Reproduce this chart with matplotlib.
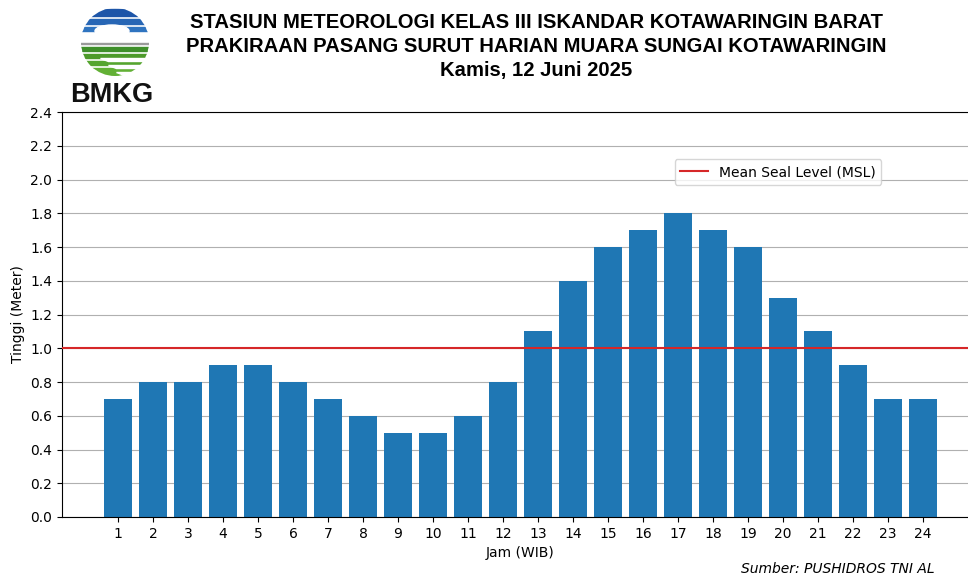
import matplotlib.pyplot as plt
from matplotlib.patches import Circle, Rectangle, Ellipse, Polygon

jam = list(range(1, 25))
tinggi = [0.7, 0.8, 0.8, 0.9, 0.9, 0.8, 0.7, 0.6, 0.5, 0.5, 0.6, 0.8,
          1.1, 1.4, 1.6, 1.7, 1.8, 1.7, 1.6, 1.3, 1.1, 0.9, 0.7, 0.7]
msl = 1.0
judul = ["STASIUN METEOROLOGI KELAS III ISKANDAR KOTAWARINGIN BARAT",
         "PRAKIRAAN PASANG SURUT HARIAN MUARA SUNGAI KOTAWARINGIN",
         "Kamis, 12 Juni 2025"]

W, H = 968, 579
fig = plt.figure(figsize=(W / 100, H / 100), dpi=100)

# main axes (right spine falls just outside the image, like the original)
ax = fig.add_axes([62 / W, (H - 517) / H, 917 / W, 405 / H])
ax.bar(jam, tinggi, width=0.8, color='#1f77b4', zorder=2)
ax.axhline(msl, color='#d62728', linewidth=1.5, label='Mean Seal Level (MSL)', zorder=3)
ax.set_xlim(-0.6, 25.6)
ax.set_ylim(0, 2.4)
ax.set_xticks(jam)
ax.set_yticks([i * 0.2 for i in range(13)])
ax.yaxis.set_major_formatter(plt.FuncFormatter(lambda v, p: f"{v:.1f}"))
ax.grid(axis='y', color='#b0b0b0', linewidth=0.8, zorder=0)
ax.set_axisbelow(True)
ax.set_xlabel("Jam (WIB)", fontsize=10)
ax.set_ylabel("Tinggi (Meter)", fontsize=10)
ax.legend(loc='center', bbox_to_anchor=((778 - 62) / 917, (517 - 172) / 405), fontsize=10)

# titles
for i, t in enumerate(judul):
    fig.text(536 / W, 1 - (23 + i * 23.5) / H, t, ha='center', va='center',
             fontsize=14.6, fontweight='bold', family='Liberation Sans')

fig.text(838 / W, 1 - 569 / H, "Sumber: PUSHIDROS TNI AL", ha='center', va='center',
         fontsize=10, style='italic')

# simple BMKG logo, drawn in pixel coordinates
lg = fig.add_axes([78 / W, 1 - 80 / H, 74 / W, 74 / H])
lg.set_xlim(78, 152)
lg.set_ylim(80, 6)
lg.axis('off')
clip = Circle((115, 42), 34, transform=lg.transData)
bands = [(9, 7, '#1d55a8'), (19, 5, '#2766b5'), (27, 4, '#2f74c0'),
         (42.5, 1.2, '#9a9a9a'),
         (47, 4, '#3f8f2a'), (54, 4, '#4d9a2a'), (61, 4, '#55a52f'), (68, 9, '#62b035')]
for y0, h, c in bands:
    r = Rectangle((78, y0), 74, h, color=c)
    r.set_clip_path(clip)
    lg.add_patch(r)
# white hill in the blue part and slanted gaps in the green part
lg.add_patch(Ellipse((112, 31), 34, 12, color='white'))
for k in range(3):
    g = Polygon([(100 + k * 8, 58 + k * 7), (152, 58 + k * 7), (152, 61 + k * 7), (108 + k * 8, 61 + k * 7)],
                closed=True, color='white')
    lg.add_patch(g)
fig.text(112 / W, 1 - 95 / H, "BMKG", ha='center', va='center', fontsize=19.5,
         fontweight='bold', family='Liberation Sans', color='#111111')

fig.savefig("out.png", dpi=100)
